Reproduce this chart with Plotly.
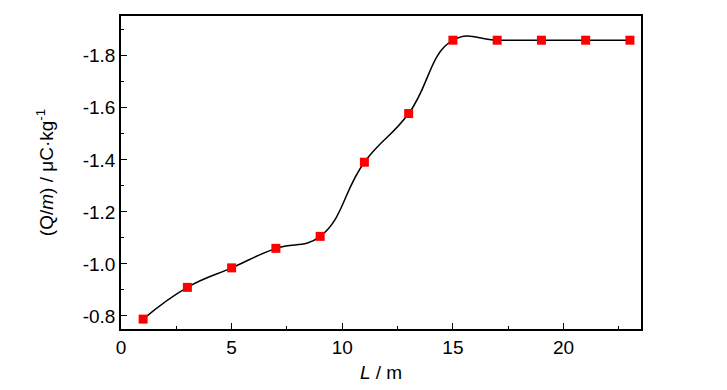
import plotly.graph_objects as go

L_values = [1, 3, 5, 7, 9, 11, 13, 15, 17, 19, 21, 23]
qm_values = [-0.788, -0.910, -0.985, -1.060, -1.106, -1.391, -1.578, -1.860, -1.860, -1.860, -1.860, -1.860]

x_tickvals = [0, 5, 10, 15, 20]
x_ticktext = ["0", "5", "10", "15", "20"]
y_tickvals = [-0.8, -1.0, -1.2, -1.4, -1.6, -1.8]
y_ticktext = ["-0.8", "-1.0", "-1.2", "-1.4", "-1.6", "-1.8"]

FONT = "Liberation Sans, Arial, sans-serif"

fig = go.Figure()
fig.add_trace(go.Scatter(
    x=L_values, y=qm_values, mode="lines",
    line=dict(color="black", width=1.5, shape="spline", smoothing=1.3),
    hoverinfo="skip", showlegend=False,
))
fig.add_trace(go.Scatter(
    x=L_values, y=qm_values, mode="markers",
    marker=dict(symbol="square", size=9, color="#ff0000", line=dict(width=0)),
    showlegend=False,
))

axis_common = dict(
    showline=True, linecolor="black", linewidth=1.5, mirror=True,
    ticks="inside", ticklen=6, tickwidth=1.2, tickcolor="black",
    showgrid=False, zeroline=False, automargin=False,
    tickfont=dict(family=FONT, size=19, color="black"),
)

fig.update_layout(
    width=727, height=390,
    margin=dict(l=121, r=86, t=16, b=61),
    paper_bgcolor="white", plot_bgcolor="white",
    xaxis=dict(
        range=[0, 23.5], tickvals=x_tickvals, ticktext=x_ticktext,
        minor=dict(ticks="inside", ticklen=3, tickwidth=1.2, tickcolor="black",
                   tickvals=[2.5, 7.5, 12.5, 17.5, 22.5]),
        title=dict(text="<i>L</i> / m", font=dict(family=FONT, size=19, color="black"), standoff=9),
        **axis_common,
    ),
    yaxis=dict(
        range=[-0.75, -1.953], tickvals=y_tickvals, ticktext=y_ticktext,
        minor=dict(ticks="inside", ticklen=3, tickwidth=1.2, tickcolor="black",
                   tickvals=[-0.9, -1.1, -1.3, -1.5, -1.7, -1.9]),
        title=dict(text="(Q/<i>m</i>) / μC·kg<sup>-1</sup>", font=dict(family=FONT, size=19, color="black"), standoff=24),
        **axis_common,
    ),
)

fig.write_html("out.html", config={"displayModeBar": False},
               post_script="document.body.style.margin='0';")
